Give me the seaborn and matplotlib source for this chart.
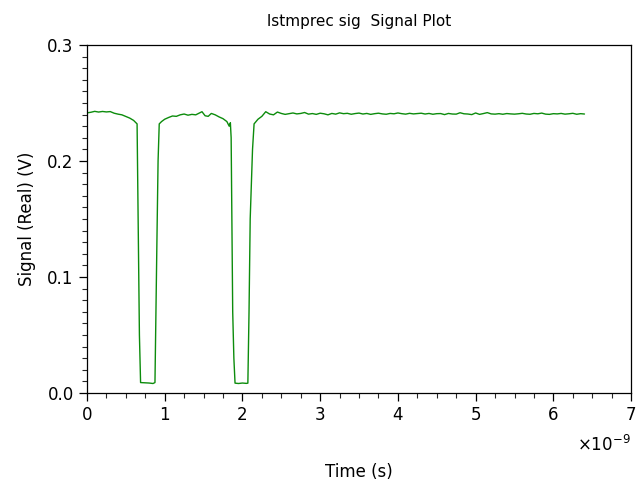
import numpy as np
import pandas as pd
import matplotlib
matplotlib.use("Agg")
import matplotlib.pyplot as plt
import seaborn as sns
from matplotlib.ticker import FixedLocator

# time in ns, signal in V
t_ns = [0.00, 0.05, 0.10, 0.15, 0.20, 0.25, 0.30, 0.35, 0.40, 0.45, 0.50, 0.55,
        0.60, 0.63, 0.645, 0.655, 0.665, 0.675, 0.69, 0.75, 0.80, 0.85, 0.875,
        0.885, 0.90, 0.915, 0.93, 0.96, 1.00, 1.05, 1.10, 1.15, 1.20, 1.25,
        1.30, 1.35, 1.40, 1.45, 1.48, 1.52, 1.56, 1.60, 1.65, 1.70, 1.75, 1.80,
        1.83, 1.845, 1.855, 1.865, 1.875, 1.89, 1.905, 1.95, 2.00, 2.05, 2.07,
        2.085, 2.10, 2.13, 2.15, 2.20, 2.25, 2.30, 2.35, 2.40, 2.45, 2.50,
        2.55, 2.60, 2.65, 2.70, 2.75, 2.80, 2.85, 2.90, 2.95, 3.00,
        3.05, 3.10, 3.15, 3.20, 3.25, 3.30, 3.35, 3.40, 3.45, 3.50,
        3.55, 3.60, 3.65, 3.70, 3.75, 3.80, 3.85, 3.90, 3.95, 4.00,
        4.05, 4.10, 4.15, 4.20, 4.25, 4.30, 4.35, 4.40, 4.45, 4.50,
        4.55, 4.60, 4.65, 4.70, 4.75, 4.80, 4.85, 4.90, 4.95, 5.00,
        5.05, 5.10, 5.15, 5.20, 5.25, 5.30, 5.35, 5.40, 5.45, 5.50,
        5.55, 5.60, 5.65, 5.70, 5.75, 5.80, 5.85, 5.90, 5.95, 6.00,
        6.05, 6.10, 6.15, 6.20, 6.25, 6.30, 6.35, 6.40]

signal = [0.2415, 0.2420, 0.2428, 0.2422, 0.2427, 0.2423, 0.2426, 0.2412, 0.2404, 0.2398, 0.2384, 0.2370,
          0.2350, 0.2330, 0.2320, 0.1700, 0.1000, 0.0500, 0.0090, 0.0088, 0.0086, 0.0082, 0.0090,
          0.0600, 0.1300, 0.2000, 0.2320, 0.2340, 0.2360, 0.2375, 0.2388, 0.2385, 0.2398, 0.2405,
          0.2395, 0.2402, 0.2398, 0.2415, 0.2425, 0.2390, 0.2385, 0.2410, 0.2398, 0.2380, 0.2365, 0.2340,
          0.2300, 0.2330, 0.2200, 0.1400, 0.0700, 0.0300, 0.0085, 0.0082, 0.0086, 0.0083, 0.0085,
          0.0700, 0.1500, 0.2100, 0.2320, 0.2360, 0.2385, 0.2425, 0.2405, 0.2398, 0.2422, 0.2410,
          0.2402, 0.2408, 0.2414, 0.2406, 0.2410, 0.2418, 0.2404, 0.2409, 0.2402, 0.2412,
          0.2407, 0.2398, 0.2410, 0.2404, 0.2415, 0.2408, 0.2411, 0.2403, 0.2409, 0.2413,
          0.2405, 0.2410, 0.2402, 0.2408, 0.2412, 0.2406, 0.2403, 0.2410, 0.2407, 0.2414,
          0.2408, 0.2404, 0.2411, 0.2406, 0.2409, 0.2412, 0.2405, 0.2410, 0.2403, 0.2408,
          0.2409, 0.2400, 0.2410, 0.2405, 0.2404, 0.2416, 0.2407, 0.2405, 0.2400, 0.2414,
          0.2402, 0.2409, 0.2417, 0.2406, 0.2404, 0.2408, 0.2403, 0.2409, 0.2406, 0.2404,
          0.2407, 0.2411, 0.2405, 0.2403, 0.2410, 0.2407, 0.2413, 0.2404, 0.2402, 0.2408,
          0.2406, 0.2410, 0.2404, 0.2407, 0.2411, 0.2403, 0.2408, 0.2405]

x_ticks = [0, 1, 2, 3, 4, 5, 6, 7]
y_ticks = [0.0, 0.1, 0.2, 0.3]

df = pd.DataFrame({"time": np.array(t_ns) * 1e-9, "signal": signal})

sns.set_style("ticks")
plt.rcParams["font.family"] = ["DejaVu Sans"]
plt.rcParams["text.color"] = "black"
plt.rcParams["axes.labelcolor"] = "black"

fig = plt.figure(figsize=(6.44, 4.87), dpi=100)
ax = fig.add_axes([0.135, 0.193, 0.845, 0.7146])

sns.lineplot(data=df, x="time", y="signal", color="#0c8c0c", linewidth=1.0,
             estimator=None, sort=False, ax=ax)

ax.set_xlim(0, 7e-9)
ax.set_ylim(0, 0.3)
ax.set_xticks([v * 1e-9 for v in x_ticks])
ax.set_xticklabels([str(v) for v in x_ticks])
ax.set_yticks(y_ticks)
ax.set_yticklabels([f"{v:.1f}" for v in y_ticks])
ax.xaxis.set_minor_locator(FixedLocator(np.arange(0, 29) * 0.25e-9))
ax.yaxis.set_minor_locator(FixedLocator(np.arange(0, 31) * 0.01))

ax.tick_params(which="major", direction="out", length=6, width=0.9, labelsize=12,
               colors="black", top=False, right=False)
ax.tick_params(which="minor", direction="out", length=3.5, width=0.8, top=False, right=False)

# exponent label under the right end of the x axis
ax.text(1.0, -0.12, r"$\times10^{-9}$", transform=ax.transAxes,
        ha="right", va="top", fontsize=12)

for s in ax.spines.values():
    s.set_linewidth(0.9)
    s.set_color("black")

ax.set_title("lstmprec sig  Signal Plot", fontsize=11, pad=14, color="black")
ax.set_xlabel("Time (s)", fontsize=12, labelpad=28)
ax.set_ylabel("Signal (Real) (V)", fontsize=12, labelpad=8)

fig.savefig("out.png", dpi=100)
